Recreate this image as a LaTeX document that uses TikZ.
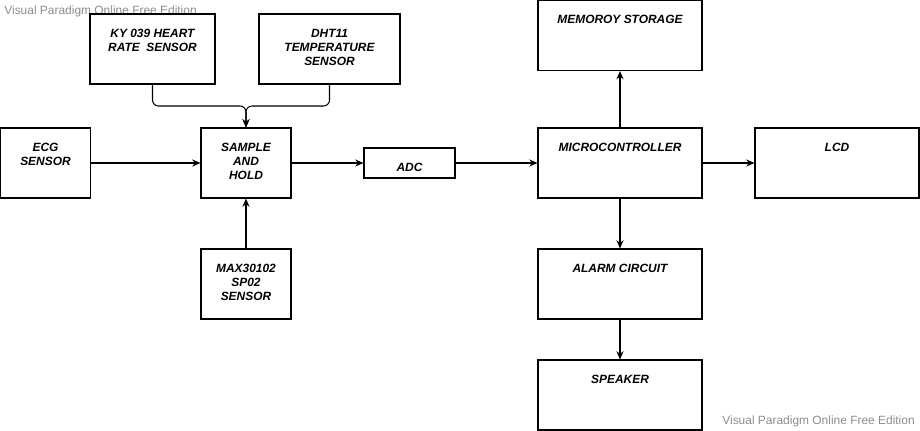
\documentclass[tikz,border=0pt]{standalone}
\usepackage{fontspec}
\setmainfont{Liberation Sans}
\usetikzlibrary{arrows.meta,positioning}
\tikzset{blk/.style={draw, line width=0.6pt, inner sep=0pt, minimum width=#1, minimum height=1.4cm}, blk/.default=1.8cm}
\tikzset{txt/.style={anchor=north, yshift=-8.7pt, inner sep=0pt, align=center, font=\fontsize{6.8}{7.9}\selectfont\bfseries\itshape}}
\tikzset{arr/.style={draw, line width=0.6pt, -{Stealth[length=4.7pt, width=4pt]}}}
\tikzset{wmark/.style={inner sep=0pt, text=black!45, font=\fontsize{6.8}{8}\selectfont}}

\begin{document}
\begin{tikzpicture}[x=0.02cm, y=-0.02cm]
        \useasboundingbox (0,0) rectangle (920,431);
        \node[wmark, anchor=base west] (wmA) at (4,15) {Visual Paradigm Online Free Edition};
        \node[wmark, anchor=base west] (wmB) at (722,425) {Visual Paradigm Online Free Edition};

        % sensors and front end
        \node[blk=2.5cm, label={[txt]north:{KY 039 HEART\\RATE~~SENSOR}}] (KY) at (152.5,49) {};
        \node[blk=2.82cm, label={[txt]north:{DHT11\\TEMPERATURE\\SENSOR}}] (DHT) at (329.5,49) {};
        \node[blk, label={[txt]north:{ECG\\SENSOR}}] (ECG) at (45.5,163) {};
        \node[blk, label={[txt]north:{SAMPLE\\AND\\HOLD}}] (SH) at (246,163) {};
        \node[blk, label={[txt]north:{MAX30102\\SP02\\SENSOR}}] (MAX) at (246,284) {};
        \node[blk=1.82cm, minimum height=0.6cm, label={[txt]north:{ADC}}] (ADC) at (409.5,163) {};

        % controller side
        \node[blk=3.28cm, label={[txt]north:{MICROCONTROLLER}}] (MCU) at (620,163) {};
        \node[blk=3.28cm, label={[txt]north:{MEMOROY STORAGE}}] (MEM) at (620,35.5) {};
        \node[blk=3.28cm, label={[txt]north:{LCD}}] (LCD) at (837,163) {};
        \node[blk=3.28cm, label={[txt]north:{ALARM CIRCUIT}}] (ALM) at (620,284) {};
        \node[blk=3.28cm, label={[txt]north:{SPEAKER}}] (SPK) at (620,395) {};

        \coordinate (join) at (246,106);

        \begin{scope}[arr]
            \draw[rounded corners=3.4pt] (KY.south) |- (join) -- (SH.north);
            \draw[rounded corners=3.4pt] (DHT.south) |- (join) -- (SH.north);
            \draw (ECG) -- (SH);
            \draw (MAX) -- (SH);
            \draw (SH) -- (ADC);
            \draw (ADC) -- (MCU);
            \draw (MCU) -- (MEM);
            \draw (MCU) -- (LCD);
            \draw (MCU) -- (ALM);
            \draw (ALM) -- (SPK);
        \end{scope}
    \end{tikzpicture}
\end{document}
